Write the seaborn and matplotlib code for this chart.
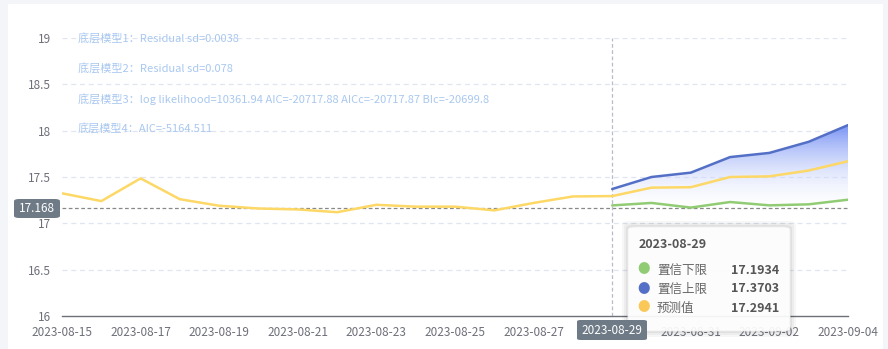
import numpy as np
import pandas as pd
import matplotlib
matplotlib.use("Agg")
import matplotlib.pyplot as plt
import matplotlib.dates as mdates
from matplotlib.patches import FancyBboxPatch, Rectangle
import seaborn as sns

sns.set_theme(style="white")
plt.rcParams['font.family'] = ['Noto Sans CJK SC', 'DejaVu Sans']

# ---------------- data ----------------
hist_dates = pd.date_range("2023-08-15", "2023-08-29", freq="D")
hist_values = [17.324, 17.24, 17.485, 17.26, 17.19, 17.16, 17.15, 17.12,
               17.20, 17.18, 17.18, 17.14, 17.22, 17.29, 17.2941]
fc_dates = pd.date_range("2023-08-29", "2023-09-04", freq="D")
fc_pred = [17.2941, 17.385, 17.39, 17.50, 17.507, 17.57, 17.67]
fc_upper = [17.3703, 17.50, 17.547, 17.715, 17.76, 17.88, 18.06]
fc_lower = [17.1934, 17.22, 17.17, 17.23, 17.194, 17.205, 17.255]
mark_value = 17.168
pointer_date = "2023-08-29"
series_names = ["置信下限", "置信上限", "预测值"]
tooltip_values = ["17.1934", "17.3703", "17.2941"]
notes = ["底层模型1：Residual sd=0.0038",
         "底层模型2：Residual sd=0.078",
         "底层模型3：log likelihood=10361.94 AIC=-20717.88 AICc=-20717.87 BIc=-20699.8",
         "底层模型4：AIC=-5164.511"]
y_ticks = [16, 16.5, 17, 17.5, 18, 18.5, 19]
x_tick_labels = ["2023-08-15", "2023-08-17", "2023-08-19", "2023-08-21", "2023-08-23",
                 "2023-08-25", "2023-08-27", "2023-08-29", "2023-08-31", "2023-09-02", "2023-09-04"]

GREEN = "#91cc75"
BLUE = "#5470c6"
YELLOW = "#fdd866"
AXIS = "#6e7079"

W, H = 888, 349
fig = plt.figure(figsize=(W / 100, H / 100), dpi=100)
fig.patch.set_facecolor("#f3f5f9")
# white panel
fig.patches.append(Rectangle((8 / W, 0), (883 - 8) / W, (H - 4) / H,
                             transform=fig.transFigure, facecolor="white",
                             edgecolor="none", zorder=-5))

ax = fig.add_axes([62 / W, (H - 316) / H, (848 - 62) / W, (316 - 38) / H])
ax.set_facecolor("none")
ax.set_zorder(1)

hist_df = pd.DataFrame({"date": hist_dates, "value": hist_values})
fc_df = pd.DataFrame({"date": fc_dates, "pred": fc_pred, "upper": fc_upper, "lower": fc_lower})

# gradient fill between upper and lower
x_num = mdates.date2num(fc_df["date"])
poly = ax.fill_between(fc_df["date"], fc_df["lower"], fc_df["upper"],
                       facecolor="none", edgecolor="none")
top, bot = max(fc_upper), min(fc_lower)
n = 256
grad = np.zeros((n, 1, 4))
t = np.linspace(0, 1, n)[:, None]  # 0 at bottom, 1 at top
c_top = np.array([0.45, 0.56, 0.96])
c_bot = np.array([1.0, 1.0, 1.0])
grad[:, 0, :3] = c_bot + (c_top - c_bot) * t
grad[:, 0, 3] = 0.15 + 0.8 * t[:, 0]
im = ax.imshow(grad, origin="lower", aspect="auto",
               extent=[x_num[0], x_num[-1], bot, top], zorder=1)
path = poly.get_paths()[0]
im.set_clip_path(path, transform=ax.transData)

sns.lineplot(data=hist_df, x="date", y="value", ax=ax, color=YELLOW, linewidth=1.8, zorder=3)
sns.lineplot(data=fc_df, x="date", y="pred", ax=ax, color=YELLOW, linewidth=1.8, zorder=3)
sns.lineplot(data=fc_df, x="date", y="upper", ax=ax, color=BLUE, linewidth=1.8, zorder=3)
sns.lineplot(data=fc_df, x="date", y="lower", ax=ax, color=GREEN, linewidth=1.8, zorder=3)

ax.set_xlim(pd.Timestamp("2023-08-15"), pd.Timestamp("2023-09-04"))
ax.set_ylim(16, 19)
ax.set_xlabel("")
ax.set_ylabel("")

# grid
for yv in y_ticks[1:]:
    ax.axhline(yv, color="#e0e6f1", linewidth=0.9, linestyle=(0, (4, 3)), zorder=0)
ax.axhline(mark_value, color="#888888", linewidth=0.9, linestyle=(0, (3, 2)), zorder=2)
ax.axvline(pd.Timestamp(pointer_date), color="#b8bcc8", linewidth=0.9,
           linestyle=(0, (3, 2)), zorder=2)

for s in ["top", "right", "left"]:
    ax.spines[s].set_visible(False)
ax.spines["bottom"].set_color(AXIS)
ax.spines["bottom"].set_linewidth(1)

ax.set_yticks(y_ticks)
ax.set_yticklabels([f"{v:g}" for v in y_ticks])
ax.tick_params(axis="y", length=0, pad=8, labelsize=8.5, labelcolor=AXIS)
xt = pd.to_datetime(x_tick_labels)
ax.set_xticks(xt)
# the pointer label box shows the 08-29 label on top of the axis
ax.set_xticklabels(["" if lbl == pointer_date else lbl for lbl in x_tick_labels])
ax.tick_params(axis="x", length=4, width=1, color=AXIS, pad=3, labelsize=8.5, labelcolor=AXIS)

# notes
for i, txt in enumerate(notes):
    fig.text(78 / W, 1 - (39 + 30 * i) / H, txt, color="#a9c8f0", fontsize=8,
             va="center", ha="left", zorder=5)

# mark label on y axis
fig.patches.append(FancyBboxPatch((14 / W, 1 - 218 / H), 46 / W, 19 / H,
                                  boxstyle="round,pad=0,rounding_size=0.006",
                                  transform=fig.transFigure, facecolor="#6e7a86",
                                  edgecolor="none", zorder=6))
fig.text(37 / W, 1 - 208 / H, f"{mark_value:g}", color="white", fontsize=8.5,
         ha="center", va="center", zorder=7)

# tooltip (with shadow)
tx0, ty0, tw, th = 628, 227, 162, 104
for k, a in [(6, 0.03), (4, 0.04), (2, 0.05)]:
    fig.patches.append(FancyBboxPatch(((tx0 - k) / W, 1 - (ty0 + th + k) / H),
                                      (tw + 2 * k) / W, (th + 2 * k) / H,
                                      boxstyle="round,pad=0,rounding_size=0.01",
                                      transform=fig.transFigure, facecolor="black",
                                      alpha=a, edgecolor="none", zorder=8))
fig.patches.append(FancyBboxPatch((tx0 / W, 1 - (ty0 + th) / H), tw / W, th / H,
                                  boxstyle="round,pad=0,rounding_size=0.008",
                                  transform=fig.transFigure, facecolor="white",
                                  edgecolor="#eeeeee", linewidth=0.6, alpha=0.92, zorder=9))
fig.text(639 / W, 1 - 245 / H, pointer_date, color="#555555", fontsize=9,
         fontweight="bold", ha="left", va="center", zorder=10)
dot_colors = [GREEN, BLUE, "#fac858"]
for i, (nm, val, c) in enumerate(zip(series_names, tooltip_values, dot_colors)):
    yy = 1 - (270 + 19 * i) / H
    fig.text(644 / W, yy, "●", color=c, fontsize=9, ha="center", va="center", zorder=10)
    fig.text(657 / W, yy, nm, color="#666666", fontsize=9, ha="left", va="center", zorder=10)
    fig.text(779 / W, yy, val, color="#555555", fontsize=9, fontweight="bold",
             ha="right", va="center", zorder=10)

# x pointer label
fig.patches.append(FancyBboxPatch((577 / W, 1 - 340 / H), 70 / W, 20 / H,
                                  boxstyle="round,pad=0,rounding_size=0.004",
                                  transform=fig.transFigure, facecolor="#6e7a86",
                                  edgecolor="none", zorder=11))
fig.text(612 / W, 1 - 330 / H, pointer_date, color="white", fontsize=8.5,
         ha="center", va="center", zorder=12)

fig.savefig("out.png", dpi=100)
